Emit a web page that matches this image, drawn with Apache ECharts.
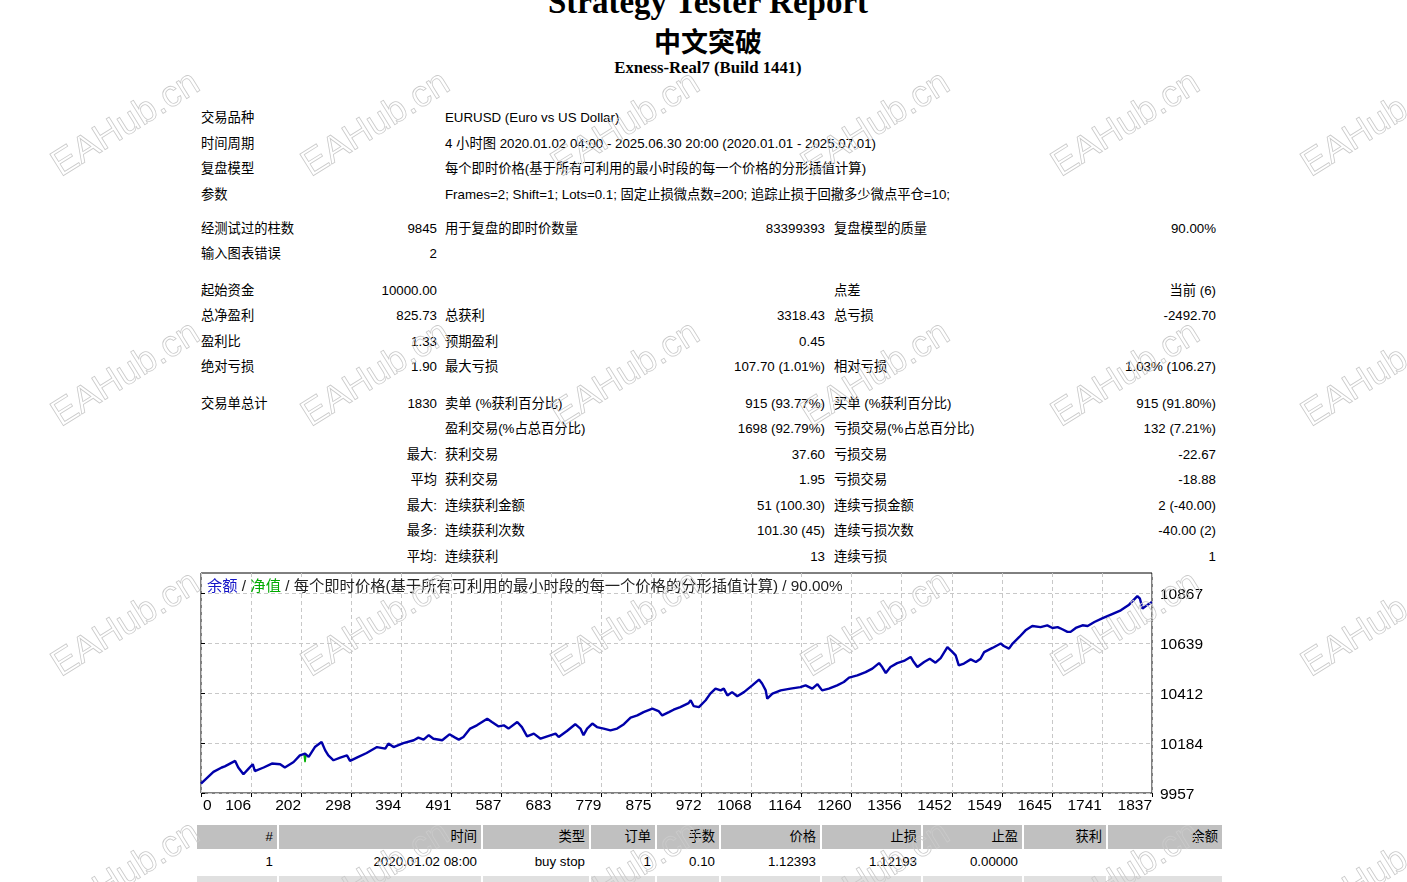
<!DOCTYPE html>
<html>
<head>
<meta charset="utf-8">
<title>Strategy Tester Report</title>
<script src="https://cdn.jsdelivr.net/npm/echarts@6/dist/echarts.min.js"></script>
<style>
html,body{margin:0;padding:0;background:#fff;width:1407px;height:882px;overflow:hidden;}
body{position:relative;font-family:"Liberation Sans","Noto Sans CJK SC",sans-serif;font-size:13.3px;color:#000;}
.t{position:absolute;white-space:nowrap;line-height:16px;height:16px;}
.h{position:absolute;left:208px;width:1000px;text-align:center;white-space:nowrap;font-weight:bold;}
.cell{position:absolute;box-sizing:border-box;padding-right:4px;text-align:right;white-space:nowrap;line-height:24px;height:24px;}
.wm{position:absolute;font-family:"Liberation Sans",sans-serif;font-size:37px;color:transparent;-webkit-text-stroke:0.8px #cacaca;white-space:nowrap;transform:translate(-50%,-50%) rotate(-32deg);pointer-events:none;}
#chart{position:absolute;left:0;top:560px;width:1407px;height:262px;}
#wmLayer{position:absolute;left:0;top:0;width:1407px;height:882px;z-index:10;pointer-events:none;overflow:hidden;}
</style>
</head>
<body>
<div class="h" style="top:-14px;font:bold 33px/33px 'Liberation Serif',serif;">Strategy Tester Report</div>
<div class="h" style="top:27px;font:bold 27px/27px 'Noto Sans CJK SC',sans-serif;">中文突破</div>
<div class="h" style="top:59px;font:bold 16.7px/17px 'Liberation Serif',serif;">Exness-Real7 (Build 1441)</div>
<div id="stats"></div>
<div id="chart"></div>
<div id="tbl"></div>
<div id="wmLayer"></div>
<script>
// ---------- chart data ----------
const chartTitle = '每个即时价格(基于所有可利用的最小时段的每一个价格的分形插值计算) / 90.00%';
const xLabels = ['0','106','202','298','394','491','587','683','779','875','972','1068','1164','1260','1356','1452','1549','1645','1741','1837'];
const yTicks = [9957, 10184, 10412, 10639, 10867];
const Y_MIN = 9957;
const Y_MAX = 10958;
const X_STEP = 96.7;

const tradeNo = [0,24,40,46,66,72,82,92,100,104,121,137,153,162,179,191,201,208,220,233,240,246,256,269,282,288,301,320,340,356,362,372,391,411,420,430,440,449,466,480,
491,498,507,520,533,553,562,575,585,594,611,620,630,633,643,656,669,685,691,707,723,733,739,746,756,765,778,791,804,817,830,843,855,872,884,891,904,913,926,942,
946,952,962,975,984,994,1004,1010,1017,1026,1036,1049,1065,1078,1084,1091,1094,1104,1120,1139,1158,1168,1181,1191,1200,1213,1229,1242,1252,1268,1284,1297,1310,1316,1323,1332,1345,1358,1371,1377,1384,1397,1408,
1419,1429,1442,1452,1458,1464,1474,1487,1497,1506,1513,1529,1545,1551,1561,1568,1581,1593,1606,1622,1635,1645,1655,1664,1674,1680,1690,1703,1713,1726,1742,1758,1777,1793,1809,1814,1819,1829,1837];

const balance = [10000,10053,10073,10078,10103,10073,10042,10068,10088,10057,10073,10091,10088,10073,10098,10128,10136,10121,10166,10189,10151,10128,10106,10118,10128,10103,10118,10139,10166,10159,10182,10166,10184,10197,10209,10200,10220,10204,10197,10224,
10209,10200,10212,10250,10265,10295,10280,10260,10265,10250,10280,10257,10215,10209,10227,10204,10215,10227,10212,10239,10270,10250,10220,10250,10273,10257,10250,10242,10250,10270,10300,10310,10325,10341,10330,10310,10325,10336,10348,10366,
10379,10352,10348,10379,10409,10432,10424,10432,10401,10416,10397,10416,10447,10473,10455,10424,10386,10409,10424,10432,10439,10447,10432,10452,10424,10432,10447,10462,10482,10492,10507,10523,10548,10530,10503,10530,10548,10558,10576,10553,10530,10553,10568,
10550,10571,10621,10598,10583,10538,10546,10565,10553,10568,10598,10617,10637,10626,10614,10637,10667,10697,10717,10712,10720,10708,10712,10702,10690,10690,10708,10720,10717,10735,10753,10769,10788,10814,10853,10841,10796,10814,10825.73];

const equityTrade = [199, 201, 203];
const equityValue = [10134, 10097, 10134];

// ---------- report text ----------
const statRows = [
  [117, ['交易品种','', 'EURUSD (Euro vs US Dollar)','','','']],
  [143, ['时间周期','', '4 小时图 2020.01.02 04:00 - 2025.06.30 20:00 (2020.01.01 - 2025.07.01)','','','']],
  [168, ['复盘模型','', '每个即时价格(基于所有可利用的最小时段的每一个价格的分形插值计算)','','','']],
  [194, ['参数','', 'Frames=2; Shift=1; Lots=0.1; 固定止损微点数=200; 追踪止损于回撤多少微点平仓=10;','','','']],
  [228, ['经测试过的柱数','9845','用于复盘的即时价数量','83399393','复盘模型的质量','90.00%']],
  [253, ['输入图表错误','2','','','','']],
  [290, ['起始资金','10000.00','','','点差','当前 (6)']],
  [315, ['总净盈利','825.73','总获利','3318.43','总亏损','-2492.70']],
  [341, ['盈利比','1.33','预期盈利','0.45','','']],
  [366, ['绝对亏损','1.90','最大亏损','107.70 (1.01%)','相对亏损','1.03% (106.27)']],
  [403, ['交易单总计','1830','卖单 (%获利百分比)','915 (93.77%)','买单 (%获利百分比)','915 (91.80%)']],
  [428, ['','','盈利交易(%占总百分比)','1698 (92.79%)','亏损交易(%占总百分比)','132 (7.21%)']],
  [454, ['','最大:','获利交易','37.60','亏损交易','-22.67']],
  [479, ['','平均','获利交易','1.95','亏损交易','-18.88']],
  [505, ['','最大:','连续获利金额','51 (100.30)','连续亏损金额','2 (-40.00)']],
  [530, ['','最多:','连续获利次数','101.30 (45)','连续亏损次数','-40.00 (2)']],
  [556, ['','平均:','连续获利','13','连续亏损','1']]
];
const colLeft = [201, null, 445, null, 834, null];
const colRight = [null, 437, null, 825, null, 1216];

const stats = document.getElementById('stats');
statRows.forEach(([y, cells]) => {
  cells.forEach((txt, i) => {
    if (!txt) return;
    const d = document.createElement('div');
    d.className = 't';
    d.textContent = txt;
    d.style.top = (y - 7.5) + 'px';
    if (colLeft[i] !== null) d.style.left = colLeft[i] + 'px';
    else d.style.right = (1407 - colRight[i]) + 'px';
    stats.appendChild(d);
  });
});

// ---------- orders table (top rows) ----------
const tblCols = [[197,277],[279,481],[483,589],[591,655],[657,719],[721,820],[822,921],[923,1022],[1024,1106],[1108,1222]];
const tblHeader = ['#','时间','类型','订单','手数','价格','止损','止盈','获利','余额'];
const tblRow1 = ['1','2020.01.02 08:00','buy stop','1','0.10','1.12393','1.12193','0.00000','',''];
const tbl = document.getElementById('tbl');
function addRow(y, texts, bg) {
  tblCols.forEach(([l, r], i) => {
    const d = document.createElement('div');
    d.className = 'cell';
    d.style.left = l + 'px';
    d.style.width = (r - l) + 'px';
    d.style.top = y + 'px';
    if (bg) d.style.background = bg;
    d.textContent = texts[i] || '';
    tbl.appendChild(d);
  });
}
addRow(825, tblHeader, '#c0c0c0');
addRow(850, tblRow1, null);
addRow(876, [], '#e0e0e0');

// ---------- watermark ----------
const wmLayer = document.getElementById('wmLayer');
for (let i = 0; i < 6; i++) {
  for (let j = 0; j < 4; j++) {
    const d = document.createElement('div');
    d.className = 'wm';
    d.textContent = 'EAHub.cn';
    d.style.left = (125 + 250 * i) + 'px';
    d.style.top = (123 + 250 * j) + 'px';
    wmLayer.appendChild(d);
  }
}

// ---------- chart ----------
const FONT = '"Liberation Sans","Noto Sans CJK SC",sans-serif';
const chart = echarts.init(document.getElementById('chart'), null, {renderer: 'canvas'});
chart.setOption({
  animation: false,
  backgroundColor: 'transparent',
  title: {
    left: 207,
    top: 19,
    padding: 0,
    text: '{b|余额}{s| / }{g|净值}{s| / ' + chartTitle + '}',
    textStyle: {
      fontSize: 15.3,
      fontFamily: FONT,
      fontWeight: 'normal',
      rich: {
        b: {color: '#1414c8', fontSize: 15.3, fontFamily: FONT},
        g: {color: '#00aa00', fontSize: 15.3, fontFamily: FONT},
        s: {color: '#222', fontSize: 15.3, fontFamily: FONT}
      }
    }
  },
  grid: {
    left: 201, top: 13, width: 951, height: 220,
    show: true, borderColor: '#000', borderWidth: 1, backgroundColor: 'transparent'
  },
  xAxis: {
    type: 'value',
    min: 0,
    max: X_STEP * 19,
    interval: X_STEP,
    axisLine: {show: false},
    axisTick: {show: true, length: 4, lineStyle: {color: '#000'}},
    axisLabel: {
      margin: 5, align: 'right', alignMinLabel: 'left', alignMaxLabel: 'right',
      padding: [0, 0, 0, 2],
      fontSize: 15.5, color: '#000', fontFamily: FONT,
      showMinLabel: true, showMaxLabel: true, hideOverlap: false,
      formatter: v => xLabels[Math.round(v / X_STEP)]
    },
    splitLine: {show: true, lineStyle: {color: '#c8c8c8', width: 1, type: [4, 3]}}
  },
  yAxis: {
    type: 'value',
    position: 'right',
    min: Y_MIN,
    max: Y_MAX,
    axisLine: {show: false},
    axisTick: {show: true, length: 4, customValues: yTicks, lineStyle: {color: '#000'}},
    axisLabel: {
      customValues: yTicks, margin: 8, fontSize: 15.5, color: '#000', fontFamily: FONT,
      verticalAlign: 'top', lineHeight: 4,
      formatter: v => String(v)
    },
    splitLine: {show: true, lineStyle: {color: '#c8c8c8', width: 1, type: [4, 3]}}
  },
  series: [
    {
      name: '净值', type: 'line', silent: true, showSymbol: false, z: 2,
      data: equityTrade.map((t, i) => [t, equityValue[i]]),
      lineStyle: {color: '#00b000', width: 1.5}
    },
    {
      name: '余额', type: 'line', silent: true, showSymbol: false, z: 3,
      data: tradeNo.map((t, i) => [t, balance[i]]),
      lineStyle: {color: '#0000aa', width: 2.4}
    }
  ]
});
</script>
</body>
</html>
